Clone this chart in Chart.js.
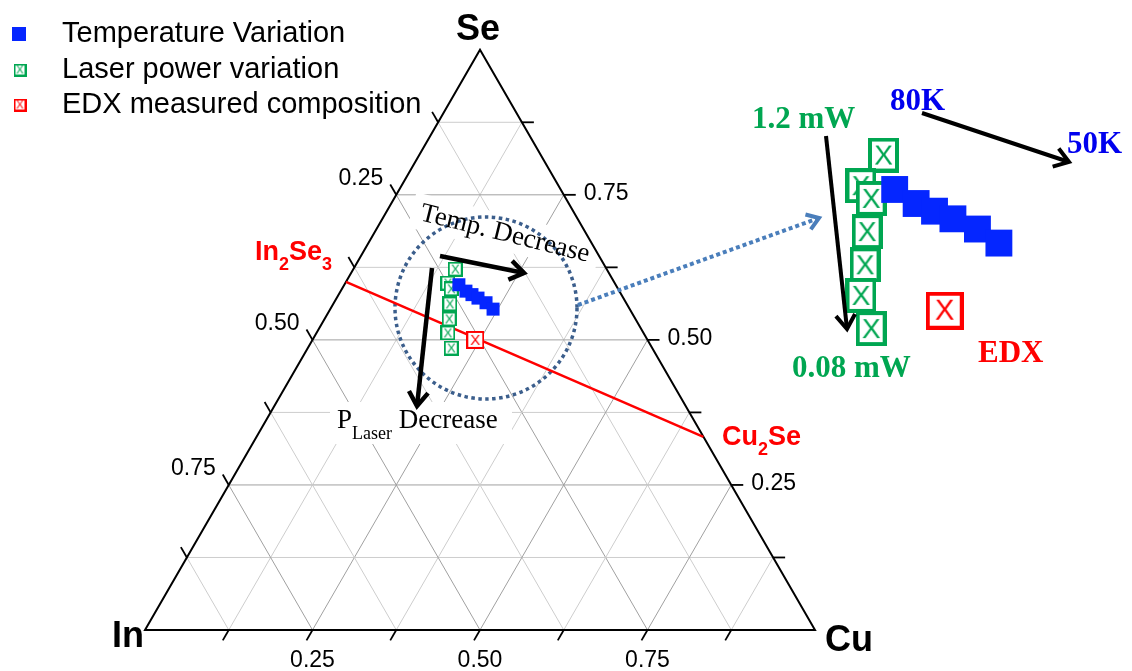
<!DOCTYPE html>
<html>
<head>
<meta charset="utf-8">
<script src="https://cdn.jsdelivr.net/npm/chart.js@4.4.1/dist/chart.umd.min.js"></script>
<style>
  html, body { margin: 0; padding: 0; background: #fff; }
  #wrap { position: relative; width: 1132px; height: 671px; }
</style>
</head>
<body>
<div id="wrap"><canvas id="chart"></canvas></div>
<script>
// compositions (atomic fractions Cu / In / Se)
const tempCu = [0.171, 0.187, 0.199, 0.211, 0.227, 0.243];
const tempIn = [0.234, 0.229, 0.223, 0.217, 0.209, 0.204];
const tempSe = [0.595, 0.584, 0.578, 0.572, 0.564, 0.553];

const laserCu = [0.152, 0.153, 0.163, 0.174, 0.186, 0.196, 0.214];
const laserIn = [0.226, 0.249, 0.249, 0.264, 0.278, 0.292, 0.300];
const laserSe = [0.622, 0.598, 0.588, 0.562, 0.536, 0.512, 0.486];

const edxCu = [0.243];
const edxIn = [0.257];
const edxSe = [0.500];

// tie line In2Se3 -> Cu2Se
const tieCu = [0, 0.667];
const tieSe = [0.6, 0.333];

const gridSteps = [0.125, 0.25, 0.375, 0.5, 0.625, 0.75, 0.875];
const labelSteps = [0.25, 0.5, 0.75];

const SANS = '"Liberation Sans", Arial, sans-serif';
const SERIF = '"Liberation Serif", "Times New Roman", serif';
const BLUE = '#0526ff', GREEN = '#00a651', RED = '#ff0000';

const W = 1132, H = 671;
const ORIGIN = { x: 145, y: 630 }, SIDE = 670;           // In corner, edge length
const INSET = { mx: 459, my: 285, ix: 895, iy: 190, kx: 3.05, ky: 2.2 }; // magnified copy

const R3 = Math.sqrt(3) / 2;
function tern(cu, se) { return { x: cu + se / 2, y: se * R3 }; }
const pts = (cu, se) => cu.map((c, i) => tern(c, se[i]));

const tempPts = pts(tempCu, tempSe);
const laserPts = pts(laserCu, laserSe);
const edxPts = pts(edxCu, edxSe);
const tiePts = pts(tieCu, tieSe);

// box with an X inside
function boxX(color, w, h, lw, fs) {
  const c = document.createElement('canvas');
  c.width = w; c.height = h;
  const g = c.getContext('2d');
  g.fillStyle = '#fff';
  g.fillRect(0, 0, w, h);
  g.strokeStyle = color;
  g.lineWidth = lw;
  g.strokeRect(lw / 2, lw / 2, w - lw, h - lw);
  g.fillStyle = color;
  g.font = fs + 'px ' + SANS;
  g.textAlign = 'center';
  g.textBaseline = 'middle';
  g.fillText('X', w / 2, h / 2 + fs * 0.05);
  return c;
}
const greenSmall = boxX(GREEN, 15, 15, 2, 13);
const redSmall = boxX(RED, 18, 18, 2, 15);
const greenBig = boxX(GREEN, 31, 35, 4, 28);
const redBig = boxX(RED, 38, 38, 4, 29);
const greenLeg = boxX(GREEN, 13, 13, 2, 11);
const redLeg = boxX(RED, 13, 13, 2, 11);

// scale ranges
const mainX = { min: -ORIGIN.x / SIDE, max: (W - ORIGIN.x) / SIDE };
const mainY = { min: (ORIGIN.y - H) / SIDE, max: ORIGIN.y / SIDE };
const insX = p => (INSET.mx + (p - INSET.ix) / INSET.kx - ORIGIN.x) / SIDE;
const insY = p => (ORIGIN.y - (INSET.my + (p - INSET.iy) / INSET.ky)) / SIDE;

function line(ctx, a, b) {
  ctx.beginPath(); ctx.moveTo(a[0], a[1]); ctx.lineTo(b[0], b[1]); ctx.stroke();
}

function arrow(ctx, x1, y1, x2, y2, color, lw, head, dash) {
  ctx.save();
  ctx.strokeStyle = color;
  ctx.lineWidth = lw;
  ctx.lineJoin = 'miter';
  if (dash) ctx.setLineDash(dash);
  ctx.beginPath(); ctx.moveTo(x1, y1); ctx.lineTo(x2, y2); ctx.stroke();
  ctx.setLineDash([]);
  const a = Math.atan2(y2 - y1, x2 - x1);
  ctx.beginPath();
  ctx.moveTo(x2 - head * Math.cos(a - 0.6), y2 - head * Math.sin(a - 0.6));
  ctx.lineTo(x2, y2);
  ctx.lineTo(x2 - head * Math.cos(a + 0.6), y2 - head * Math.sin(a + 0.6));
  ctx.stroke();
  ctx.restore();
}

// pieces: [text, size, baselineShift]
function rich(ctx, pieces, x, y, weight, family, color) {
  ctx.fillStyle = color;
  ctx.textAlign = 'left';
  ctx.textBaseline = 'alphabetic';
  pieces.forEach(([t, s, dy]) => {
    ctx.font = `${weight} ${s}px ${family}`;
    ctx.fillText(t, x, y + dy);
    x += ctx.measureText(t).width;
  });
}

const ternaryPlugin = {
  id: 'ternary',
  beforeDatasetsDraw(chart) {
    const { ctx, scales: { x, y } } = chart;
    const P = (cu, se) => { const t = tern(cu, se); return [x.getPixelForValue(t.x), y.getPixelForValue(t.y)]; };
    ctx.save();

    // grid
    gridSteps.forEach(v => {
      const major = labelSteps.includes(v);
      ctx.strokeStyle = major ? '#a0a0a0' : '#cdcdcd';
      ctx.lineWidth = 1;
      line(ctx, P(0, v), P(1 - v, v));
      line(ctx, P(v, 0), P(v, 1 - v));
      line(ctx, P(1 - v, 0), P(0, 1 - v));
    });

    // white boxes behind annotation text
    ctx.fillStyle = '#fff';
    ctx.save();
    ctx.translate(505, 234);
    ctx.rotate(14 * Math.PI / 180);
    ctx.fillRect(-96, -19, 192, 36);
    ctx.restore();
    ctx.fillRect(330, 402, 182, 42);

    // triangle
    ctx.strokeStyle = '#000';
    ctx.lineWidth = 2;
    ctx.lineJoin = 'miter';
    const A = P(0, 0), B = P(1, 0), C = P(0, 1);
    ctx.beginPath();
    ctx.moveTo(A[0], A[1]); ctx.lineTo(B[0], B[1]); ctx.lineTo(C[0], C[1]); ctx.closePath();
    ctx.stroke();

    // ticks + labels
    const L = 12;
    ctx.lineWidth = 1.8;
    ctx.fillStyle = '#000';
    ctx.font = '23px ' + SANS;
    ctx.textBaseline = 'middle';
    gridSteps.forEach(v => {
      const lab = labelSteps.includes(v) ? v.toFixed(2) : null;
      // bottom: Cu
      let p = P(v, 0), e = [p[0] - 0.5 * L, p[1] + R3 * L];
      line(ctx, p, e);
      if (lab) { ctx.textAlign = 'center'; ctx.fillText(lab, p[0], p[1] + 31); }
      // left: In
      p = P(0, 1 - v); e = [p[0] - 0.5 * L, p[1] - R3 * L];
      line(ctx, p, e);
      if (lab) { ctx.textAlign = 'right'; ctx.fillText(lab, e[0] - 7, e[1] - 6); }
      // right: Se
      p = P(1 - v, v); e = [p[0] + L, p[1]];
      line(ctx, p, e);
      if (lab) { ctx.textAlign = 'left'; ctx.fillText(lab, e[0] + 8, e[1] - 1); }
    });

    // dotted circle round the data
    ctx.strokeStyle = '#3b5e8c';
    ctx.lineWidth = 3.5;
    ctx.setLineDash([3.5, 3.5]);
    ctx.beginPath();
    ctx.arc(486, 308, 91, 0, Math.PI * 2);
    ctx.stroke();
    ctx.setLineDash([]);
    ctx.restore();
  },
  afterDatasetsDraw(chart) {
    const { ctx } = chart;
    ctx.save();

    // corner labels
    ctx.fillStyle = '#000';
    ctx.font = 'bold 36px ' + SANS;
    ctx.textAlign = 'center';
    ctx.textBaseline = 'middle';
    ctx.fillText('Se', 478, 30);
    ctx.fillText('In', 128, 637);
    ctx.fillText('Cu', 849, 641);

    // phase labels
    rich(ctx, [['In', 27, 0], ['2', 18, 10], ['Se', 27, 0], ['3', 18, 10]], 255, 260, 'bold', SANS, RED);
    rich(ctx, [['Cu', 27, 0], ['2', 18, 10], ['Se', 27, 0]], 722, 445, 'bold', SANS, RED);

    // annotations in the triangle
    ctx.save();
    ctx.translate(505, 234);
    ctx.rotate(14 * Math.PI / 180);
    ctx.font = '27px ' + SERIF;
    ctx.fillStyle = '#000';
    ctx.textAlign = 'center';
    ctx.textBaseline = 'middle';
    ctx.fillText('Temp. Decrease', 0, 0);
    ctx.restore();
    rich(ctx, [['P', 27, 0], ['Laser', 18, 11], [' Decrease', 27, 0]], 337, 428, 'normal', SERIF, '#000');

    arrow(ctx, 440, 256, 524, 273, '#000', 4.5, 17);
    arrow(ctx, 432, 268, 417, 406, '#000', 4.5, 17);
    arrow(ctx, 578, 305, 819, 218, '#4a7ebb', 4, 14, [4, 3]);

    // inset annotations
    arrow(ctx, 922, 113, 1069, 162, '#000', 4, 17);
    arrow(ctx, 826, 136, 847, 329, '#000', 4, 17);
    ctx.textAlign = 'left';
    ctx.textBaseline = 'alphabetic';
    ctx.font = 'bold 31px ' + SERIF;
    ctx.fillStyle = GREEN;
    ctx.fillText('1.2 mW', 752, 128);
    ctx.fillText('0.08 mW', 792, 377);
    ctx.fillStyle = '#0000ee';
    ctx.fillText('80K', 890, 110);
    ctx.fillText('50K', 1067, 153);
    ctx.fillStyle = RED;
    ctx.fillText('EDX', 978, 362);

    // legend
    const rows = [
      ['Temperature Variation', null, 34],
      ['Laser power variation', greenLeg, 70],
      ['EDX measured composition', redLeg, 105]
    ];
    ctx.font = '29px ' + SANS;
    ctx.textBaseline = 'middle';
    rows.forEach(([t, img, yy]) => {
      if (img) ctx.drawImage(img, 20 - img.width / 2, yy - img.height / 2);
      else { ctx.fillStyle = BLUE; ctx.fillRect(12, yy - 7, 14, 14); }
      ctx.fillStyle = '#000';
      ctx.fillText(t, 62, yy);
    });
    ctx.restore();
  }
};

new Chart(document.getElementById('chart'), {
  type: 'scatter',
  data: {
    datasets: [
      { label: 'Temperature Variation', data: tempPts, pointStyle: 'rect', pointRadius: 9.2,
        backgroundColor: BLUE, borderColor: BLUE, borderWidth: 0 },
      { label: 'Laser power variation', data: laserPts, pointStyle: greenSmall, pointRadius: 8 },
      { label: 'EDX measured composition', data: edxPts, pointStyle: redSmall, pointRadius: 9 },
      { label: 'tie', data: tiePts, showLine: true, borderColor: RED, borderWidth: 2.5, pointRadius: 0 },
      { label: 'inset T', data: tempPts, xAxisID: 'xi', yAxisID: 'yi', pointStyle: 'rect', pointRadius: 19,
        backgroundColor: BLUE, borderColor: BLUE, borderWidth: 0 },
      { label: 'inset P', data: laserPts, xAxisID: 'xi', yAxisID: 'yi', pointStyle: greenBig, pointRadius: 15 },
      { label: 'inset EDX', data: edxPts, xAxisID: 'xi', yAxisID: 'yi', pointStyle: redBig, pointRadius: 18 }
    ]
  },
  options: {
    responsive: true,
    maintainAspectRatio: false,
    animation: false,
    events: [],
    layout: { padding: 0, autoPadding: false },
    plugins: { legend: { display: false }, tooltip: { enabled: false } },
    scales: {
      x: { type: 'linear', min: mainX.min, max: mainX.max, display: false },
      y: { type: 'linear', min: mainY.min, max: mainY.max, display: false },
      xi: { type: 'linear', axis: 'x', min: insX(0), max: insX(W), display: false },
      yi: { type: 'linear', axis: 'y', min: insY(H), max: insY(0), display: false }
    }
  },
  plugins: [ternaryPlugin]
});
</script>
</body>
</html>
